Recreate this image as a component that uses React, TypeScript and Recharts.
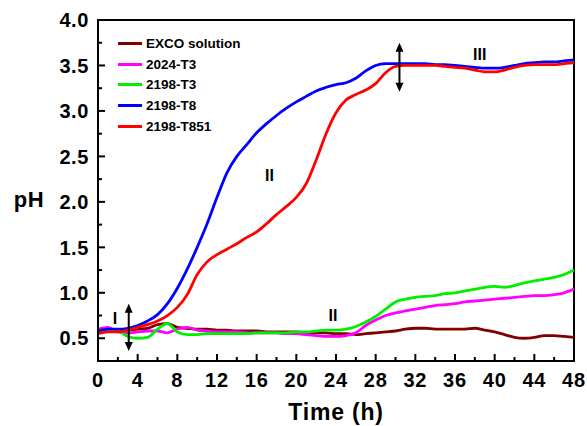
import React from 'react';
import { LineChart, Line, XAxis, YAxis, Legend, ReferenceLine, ReferenceDot, ReferenceArea } from 'recharts';

const FONT = '"Liberation Sans", Arial, Helvetica, sans-serif';

// Time (h)
const hours = [
  0, 1, 2, 3, 4, 5, 6, 7, 8, 9, 10, 11, 12, 13, 14, 15, 16, 17, 18, 19, 20, 21, 22, 23, 24,
  25, 26, 27, 28, 29, 30, 31, 32, 33, 34, 35, 36, 37, 38, 39, 40, 41, 42, 43, 44, 45, 46, 47, 48,
];

// pH values per series
const excoSolution = [
  0.57, 0.58, 0.59, 0.59, 0.6, 0.61, 0.65, 0.66, 0.62, 0.61, 0.6, 0.6, 0.59, 0.59, 0.58, 0.58, 0.58,
  0.57, 0.57, 0.57, 0.57, 0.56, 0.56, 0.56, 0.55, 0.55, 0.54, 0.55, 0.56, 0.57, 0.58, 0.6, 0.61,
  0.61, 0.6, 0.6, 0.6, 0.6, 0.61, 0.59, 0.57, 0.54, 0.51, 0.5, 0.51, 0.53, 0.53, 0.52, 0.51,
];
const al2024T3 = [
  0.6, 0.62, 0.57, 0.56, 0.57, 0.58, 0.58, 0.56, 0.6, 0.62, 0.59, 0.58, 0.57, 0.57, 0.57, 0.56, 0.56,
  0.56, 0.56, 0.55, 0.55, 0.54, 0.53, 0.52, 0.52, 0.53, 0.56, 0.64, 0.7, 0.75, 0.78, 0.8, 0.82,
  0.84, 0.86, 0.87, 0.88, 0.9, 0.91, 0.92, 0.93, 0.94, 0.95, 0.96, 0.97, 0.97, 0.98, 1.0, 1.04,
];
const al2198T3 = [
  0.57, 0.59, 0.58, 0.52, 0.5, 0.51, 0.6, 0.66, 0.57, 0.54, 0.54, 0.55, 0.55, 0.55, 0.55, 0.55, 0.56,
  0.56, 0.56, 0.56, 0.57, 0.57, 0.58, 0.59, 0.59, 0.6, 0.63, 0.68, 0.74, 0.82, 0.9, 0.93, 0.95,
  0.96, 0.97, 0.99, 1.0, 1.02, 1.04, 1.06, 1.07, 1.06, 1.08, 1.11, 1.13, 1.15, 1.17, 1.2, 1.25,
];
const al2198T8 = [
  0.58, 0.6, 0.6, 0.61, 0.64, 0.69, 0.76, 0.88, 1.05, 1.26, 1.5, 1.76, 2.05, 2.32, 2.5, 2.63, 2.76,
  2.86, 2.95, 3.03, 3.1, 3.16, 3.22, 3.26, 3.29, 3.31, 3.36, 3.44, 3.5, 3.52, 3.52, 3.52, 3.52,
  3.52, 3.51, 3.51, 3.5, 3.49, 3.48, 3.47, 3.47, 3.48, 3.5, 3.52, 3.53, 3.54, 3.54, 3.55, 3.56,
];
const al2198T851 = [
  0.55, 0.57, 0.57, 0.59, 0.62, 0.65, 0.69, 0.75, 0.84, 0.98, 1.2, 1.34, 1.42, 1.48, 1.54, 1.61, 1.67,
  1.76, 1.86, 1.95, 2.05, 2.2, 2.46, 2.75, 2.98, 3.12, 3.18, 3.23, 3.3, 3.42, 3.49, 3.5, 3.5,
  3.5, 3.5, 3.49, 3.48, 3.47, 3.45, 3.43, 3.43, 3.45, 3.48, 3.5, 3.51, 3.51, 3.51, 3.52, 3.53,
];

const seriesNames = ['EXCO solution', '2024-T3', '2198-T3', '2198-T8', '2198-T851'];
const seriesKeys = ['exco', 'a2024t3', 'a2198t3', 'a2198t8', 'a2198t851'];
const seriesColors = ['#7f0000', '#ff00ff', '#00ee00', '#0000ff', '#ff0000'];
const seriesValues = [excoSolution, al2024T3, al2198T3, al2198T8, al2198T851];

const xTicks = [0, 2, 4, 6, 8, 10, 12, 14, 16, 18, 20, 22, 24, 26, 28, 30, 32, 34, 36, 38, 40, 42, 44, 46, 48];
const xLabelStep = 4;
const yTicks = [0.25, 0.5, 0.75, 1.0, 1.25, 1.5, 1.75, 2.0, 2.25, 2.5, 2.75, 3.0, 3.25, 3.5, 3.75, 4.0];

// annotations (data coordinates)
const arrows = [
  { x: 3.1, yFrom: 0.36, yTo: 0.88 },
  { x: 30.4, yFrom: 3.21, yTo: 3.75 },
];
const romanLabels = [
  { x: 1.7, y: 0.72, text: 'I' },
  { x: 17.3, y: 2.29, text: 'II' },
  { x: 23.7, y: 0.75, text: 'II' },
  { x: 38.5, y: 3.62, text: 'III' },
];

const data = hours.map((t, i) => {
  const row: Record<string, number> = { t };
  seriesKeys.forEach((k, j) => {
    row[k] = seriesValues[j][i];
  });
  return row;
});

const YTick = (props: any) => {
  const { x, y, payload } = props;
  const v = payload.value as number;
  const major = Math.abs(v * 2 - Math.round(v * 2)) < 1e-6;
  return (
    <g>
      <line x1={x} x2={x + (major ? 7 : 4)} y1={y} y2={y} stroke="#000" strokeWidth={2} />
      {major && v >= 0.5 && (
        <text x={x - 9} y={y} dy="0.36em" textAnchor="end" fontFamily={FONT} fontWeight="bold" fontSize={20} letterSpacing={0.6} fill="#000">
          {v.toFixed(1)}
        </text>
      )}
    </g>
  );
};

const XTick = (props: any) => {
  const { x, y, payload } = props;
  const v = payload.value as number;
  const major = v % xLabelStep === 0;
  return (
    <g>
      <line x1={x} x2={x} y1={y} y2={y - (major ? 7 : 4)} stroke="#000" strokeWidth={2} />
      {major && (
        <text x={x} y={y + 19} dy="0.36em" textAnchor="middle" fontFamily={FONT} fontWeight="bold" fontSize={20} letterSpacing={0.8} fill="#000">
          {v}
        </text>
      )}
    </g>
  );
};

const DoubleArrow = (p: any) => {
  const { x1, y1, y2 } = p;
  const top = Math.min(y1, y2);
  const bot = Math.max(y1, y2);
  return (
    <g>
      <line x1={x1} x2={x1} y1={top + 6} y2={bot - 6} stroke="#000" strokeWidth={2} />
      <polygon points={`${x1},${top} ${x1 - 4},${top + 9} ${x1 + 4},${top + 9}`} fill="#000" />
      <polygon points={`${x1},${bot} ${x1 - 4},${bot - 9} ${x1 + 4},${bot - 9}`} fill="#000" />
    </g>
  );
};

const LegendBox = () => (
  <div style={{ fontFamily: FONT, fontWeight: 'bold', fontSize: 13.5, color: '#000' }}>
    {seriesNames.map((name, i) => (
      <div key={name} style={{ display: 'flex', alignItems: 'center', height: 20.75 }}>
        <div style={{ width: 24, height: 3, background: seriesColors[i], marginRight: 4 }} />
        <span style={{ lineHeight: '15px' }}>{name}</span>
      </div>
    ))}
  </div>
);

export default function App() {
  return (
    <div style={{ position: 'absolute', left: 0, top: 0, width: 587, height: 426, background: '#fff' }}>
      <LineChart width={587} height={426} data={data} margin={{ top: 20, right: 13, left: 0, bottom: 0 }}>
        <XAxis
          dataKey="t"
          type="number"
          domain={[0, 48]}
          ticks={xTicks}
          interval={0}
          tickSize={0}
          tickMargin={0}
          tickLine={false}
          tick={<XTick />}
          axisLine={{ stroke: '#000', strokeWidth: 2 }}
          height={65}
          label={(p: any) => {
            const vb = p.viewBox;
            return (
              <text x={vb.x + vb.width / 2} y={vb.y + 59} textAnchor="middle" fontFamily={FONT} fontWeight="bold" fontSize={23} letterSpacing={0.8} fill="#000">
                Time (h)
              </text>
            );
          }}
        />
        <YAxis
          type="number"
          domain={[0.25, 4]}
          ticks={yTicks}
          interval={0}
          allowDataOverflow
          tickSize={0}
          tickMargin={0}
          tickLine={false}
          tick={<YTick />}
          axisLine={{ stroke: '#000', strokeWidth: 2 }}
          width={98}
          label={() => (
            <text x={29} y={207} textAnchor="middle" fontFamily={FONT} fontWeight="bold" fontSize={22} letterSpacing={0.6} fill="#000">
              pH
            </text>
          )}
        />
        <ReferenceArea x1={0} x2={48} y1={0.25} y2={4} fill="none" stroke="#000" strokeWidth={2} fillOpacity={0} />
        {seriesKeys.map((k, i) => (
          <Line
            key={k}
            dataKey={k}
            name={seriesNames[i]}
            type="monotone"
            stroke={seriesColors[i]}
            strokeWidth={2.8}
            dot={false}
            activeDot={false}
            isAnimationActive={false}
          />
        ))}
        {arrows.map((a, i) => (
          <ReferenceLine
            key={'arr' + i}
            segment={[{ x: a.x, y: a.yFrom }, { x: a.x, y: a.yTo }]}
            stroke="#000"
            shape={DoubleArrow}
          />
        ))}
        {romanLabels.map((r, i) => (
          <ReferenceDot
            key={'rl' + i}
            x={r.x}
            y={r.y}
            r={0}
            shape={(p: any) => (
              <text x={p.cx} y={p.cy} dy="0.36em" textAnchor="middle" fontFamily={FONT} fontWeight="bold" fontSize={16} fill="#000">
                {r.text}
              </text>
            )}
          />
        ))}
        <Legend
          layout="horizontal"
          verticalAlign="middle"
          align="center"
          content={() => <LegendBox />}
          wrapperStyle={{ position: 'absolute', left: 118, top: 33, width: 170, height: 110 }}
        />
      </LineChart>
    </div>
  );
}
